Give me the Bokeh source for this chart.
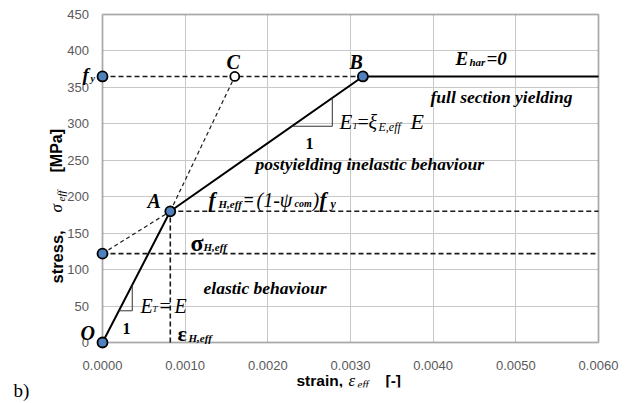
import math
from bokeh.plotting import figure
from bokeh.models import Range1d, SingleIntervalTicker, PrintfTickFormatter, Label, BoxAnnotation
from bokeh.embed import file_html
from bokeh.resources import INLINE

# Idealised stress-strain law (strain [-], stress [MPa])
curve_strain = [0.0, 0.00082, 0.00315, 0.006]
curve_stress = [0.0, 180.0, 365.0, 365.0]

fy = 365.0          # yield stress
sigma_H = 180.0     # limit of elastic behaviour
sigma_0 = 122.0     # intercept of the secant through A
eps_H = 0.00082     # strain at A
eps_B = 0.00315     # strain at B
eps_C = 0.0016      # strain at C

marker_strain = [0.0, 0.0, 0.0, eps_H, eps_B]
marker_stress = [0.0, sigma_0, fy, sigma_H, fy]

x_axis_min, x_axis_max, x_ticks_step = 0.0, 0.006, 0.001
y_axis_min, y_axis_max, y_ticks_step = 0.0, 450.0, 50

# canvas and pixel geometry: the chart box spans 102..598 x 14..342,
# the plotting frame is made larger so annotations beside the box stay visible
W, H = 628, 403
BOX_L, BOX_R, BOX_T, BOX_B = 102, 598, 14, 342
FRAME_L, FRAME_R, FRAME_T, FRAME_B = 40, 628, 0, 387
sx_per = (BOX_R - BOX_L) / (x_axis_max - x_axis_min)
sy_per = (BOX_B - BOX_T) / (y_axis_max - y_axis_min)
X0 = x_axis_min - (BOX_L - FRAME_L) / sx_per
X1 = x_axis_max + (FRAME_R - BOX_R) / sx_per
Y0 = y_axis_min - (FRAME_B - BOX_B) / sy_per
Y1 = y_axis_max + (BOX_T - FRAME_T) / sy_per

p = figure(width=W, height=H, output_backend="svg", toolbar_location=None,
           x_range=Range1d(X0, X1), y_range=Range1d(Y0, Y1))
p.min_border_left = FRAME_L
p.min_border_right = W - FRAME_R
p.min_border_top = FRAME_T
p.min_border_bottom = H - FRAME_B
p.background_fill_color = "white"
p.border_fill_color = "white"
p.outline_line_color = None

xa, ya = p.xaxis[0], p.yaxis[0]
for ax in (xa, ya):
    ax.axis_line_color = None
    ax.major_tick_line_color = None
    ax.minor_tick_line_color = None
    ax.major_tick_out = 0
    ax.major_tick_in = 0
    ax.minor_tick_out = 0
    ax.minor_tick_in = 0
    ax.major_label_standoff = 0
    ax.major_label_text_font = "Liberation Sans"
    ax.major_label_text_font_size = "13px"
    ax.major_label_text_color = "#595959"
xa.ticker = SingleIntervalTicker(interval=x_ticks_step)
xa.formatter = PrintfTickFormatter(format="%.4f")
xa.bounds = (x_axis_min, x_axis_max)
ya.ticker = SingleIntervalTicker(interval=y_ticks_step)
ya.bounds = (y_axis_min, y_axis_max)
# tick labels sit just outside the chart box
xa.fixed_location = y_axis_min - 18 / sy_per
ya.fixed_location = x_axis_min - 13.5 / sx_per
for g in (p.xgrid[0], p.ygrid[0]):
    g.grid_line_color = "#c8c8c8"
    g.grid_line_width = 1

# white strips keep the grid inside the chart box
mask = dict(fill_color="white", fill_alpha=1, line_color=None, level="underlay")
p.add_layout(BoxAnnotation(left=X0, right=x_axis_min, bottom=Y0, top=Y1, **mask))
p.add_layout(BoxAnnotation(left=x_axis_max, right=X1, bottom=Y0, top=Y1, **mask))
p.add_layout(BoxAnnotation(left=X0, right=X1, bottom=Y0, top=y_axis_min, **mask))
p.add_layout(BoxAnnotation(left=X0, right=X1, bottom=y_axis_max, top=Y1, **mask))
# chart box border
p.add_layout(BoxAnnotation(left=x_axis_min, right=x_axis_max, bottom=y_axis_min, top=y_axis_max,
                           fill_alpha=0, line_color="#262626", line_width=2, level="underlay"))

# dashed construction lines
dash = dict(line_color="#1a1a1a", line_width=1.6, line_dash="5 3")
p.line([0.0, eps_B], [fy, fy], **dash)
p.line([eps_H, x_axis_max], [sigma_H, sigma_H], **dash)
p.line([0.0, x_axis_max], [sigma_0, sigma_0], **dash)
p.line([eps_H, eps_H], [0.0, sigma_H], **dash)
p.line([0.0, eps_H], [sigma_0, sigma_H], line_color="#1a1a1a", line_width=1.2, line_dash="4 3")
p.line([eps_H, eps_C], [sigma_H, fy], line_color="#1a1a1a", line_width=1.2, line_dash="4 3")

# main curve
p.line(curve_strain, curve_stress, line_color="black", line_width=2)

# slope triangles
E = curve_stress[1] / curve_strain[1]
Et = (curve_stress[2] - curve_stress[1]) / (curve_strain[2] - curve_strain[1])
tri1_y, tri1_x = 43.5, 0.00036
p.line([tri1_y / E, tri1_x, tri1_x], [tri1_y, tri1_y, tri1_x * E],
       line_color="#333333", line_width=1)
tri2_y, tri2_x = 296.7, 0.00278
p.line([eps_H + (tri2_y - sigma_H) / Et, tri2_x, tri2_x],
       [tri2_y, tri2_y, sigma_H + Et * (tri2_x - eps_H)],
       line_color="#333333", line_width=1)

# points
p.scatter(marker_strain, marker_stress, size=10, fill_color="#4F81BD",
          line_color="black", line_width=1.8)
p.scatter([eps_C], [fy], size=9, fill_color="white", line_color="black", line_width=1.8)

SERIF = "Liberation Serif"
SANS = "Liberation Sans"


def to_data(xp, yp):
    return (x_axis_min + (xp - BOX_L) / sx_per, y_axis_min + (BOX_B - yp) / sy_per)


def rich(pieces, angle=0.0, place="center", baseline="alphabetic"):
    for txt, xp, yp, size, style, font in pieces:
        x, y = to_data(xp, yp)
        p.add_layout(Label(x=x, y=y, text=txt, text_font=font,
                           text_font_size=f"{size}px", text_font_style=style,
                           text_color="black", text_align="left",
                           text_baseline=baseline, angle=angle), place)


BI, I, Bd, N = "bold italic", "italic", "bold", "normal"

rich([("f", 82, 74, 19, BI, SERIF), ("y", 90, 78, 10, BI, SERIF)])
rich([("C", 226, 61, 20, BI, SERIF)])
rich([("B", 349, 61, 20, BI, SERIF)])
rich([("E", 455, 58, 19, BI, SERIF), ("har", 469, 61, 11, BI, SERIF),
      ("=0", 486, 58, 19, BI, SERIF)])
rich([("full section yielding", 430, 96, 17.5, BI, SERIF)])
rich([("E", 339, 121, 21, I, SERIF), ("T", 352, 125, 9, I, SERIF),
      ("=", 357, 121, 20, N, SERIF), ("ξ", 368, 121, 20, I, SERIF),
      ("E,eff", 378, 126, 12, I, SERIF), ("E", 410, 121, 22, I, SERIF)])
rich([("1", 305, 143, 16, Bd, SERIF)])
rich([("postyielding inelastic behaviour", 255, 163, 17.5, BI, SERIF)])
rich([("A", 147, 200, 20, BI, SERIF)])
rich([("f", 208, 199, 21, BI, SERIF), ("H,eff", 218, 203, 11, BI, SERIF),
      ("=", 243, 199, 18, BI, SERIF), ("(1-ψ", 256, 199, 20, I, SERIF),
      ("com", 294, 203, 10, BI, SERIF), (")", 312, 199, 20, I, SERIF),
      ("f", 319, 199, 21, BI, SERIF), ("y", 330, 203, 12, BI, SERIF)])
rich([("σ", 190, 242, 24, Bd, SERIF), ("H,eff", 203, 246, 11, BI, SERIF)])
rich([("elastic behaviour", 203, 287, 17.5, BI, SERIF)])
rich([("E", 140, 305, 20, I, SERIF), ("T", 152, 308, 9, I, SERIF),
      ("=", 159, 305, 20, N, SERIF), ("E", 174, 305, 20, I, SERIF)])
rich([("1", 122, 328, 16, Bd, SERIF)])
rich([("O", 80, 332, 20, BI, SERIF)])
rich([("ε", 177, 333, 22, Bd, SERIF), ("H,eff", 188, 337, 11, BI, SERIF)])
# panel label in the lower left corner, kept outside the plotting frame
rich([("b)", 13, 390, 19, N, SERIF)], place="left", baseline="middle")

# axis titles
rich([("strain,", 296, 380, 15.5, Bd, SANS), ("ε", 348, 380, 17, I, SERIF),
      ("eff", 357, 383, 11, I, SERIF), ("[-]", 385, 380, 15.5, Bd, SANS)])
rich([("stress,", 56, 283, 16.5, Bd, SANS), ("σ", 56, 212, 17, I, SERIF),
      ("eff", 60, 201, 11, I, SERIF), ("[MPa]", 56, 172, 16, Bd, SANS)],
     angle=math.pi / 2)

open("out.html", "w").write(file_html(p, INLINE))
